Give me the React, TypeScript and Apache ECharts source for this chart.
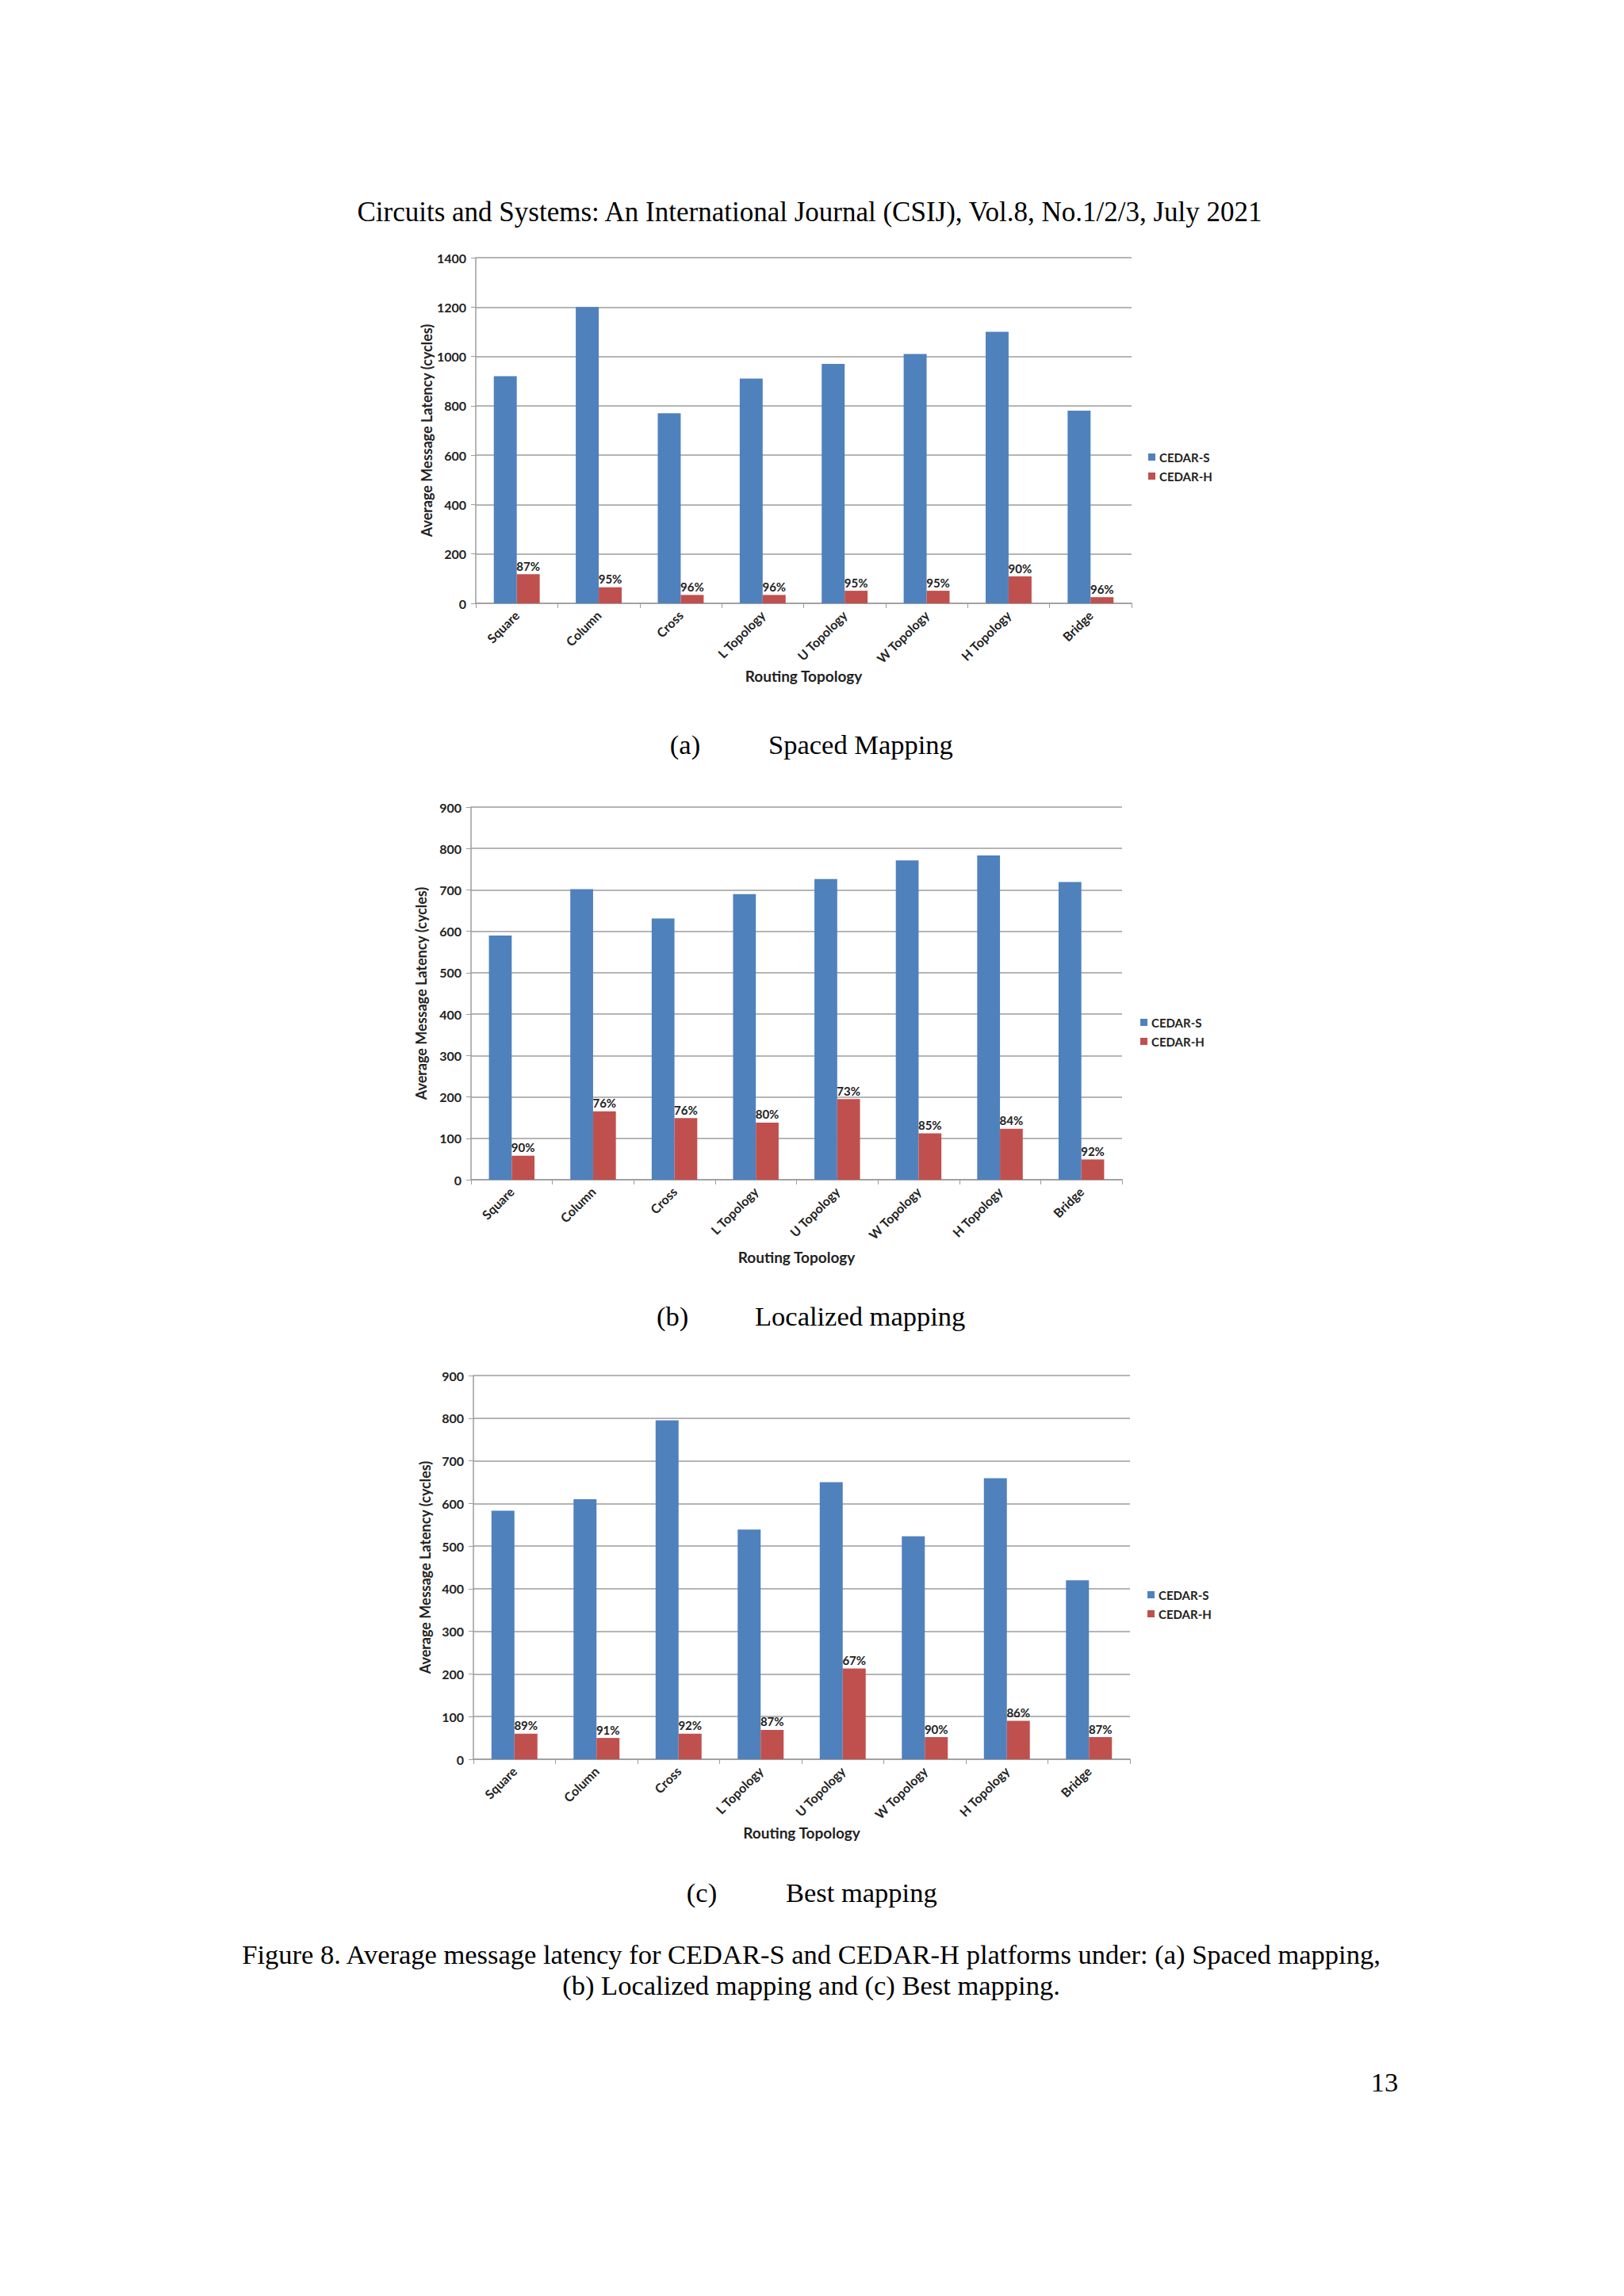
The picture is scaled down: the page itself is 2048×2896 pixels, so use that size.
import React, { useEffect, useRef } from "react";
import * as echarts from "echarts";

const categories = ["Square", "Column", "Cross", "L Topology", "U Topology", "W Topology", "H Topology", "Bridge"];
const seriesNames = ["CEDAR-S", "CEDAR-H"];

const spacedS = [920, 1200, 770, 910, 970, 1010, 1100, 780];
const spacedH = [118, 65, 34, 34, 51, 51, 109, 25];
const spacedPct = ["87%", "95%", "96%", "96%", "95%", "95%", "90%", "96%"];

const localS = [590, 702, 631, 690, 726, 771, 783, 719];
const localH = [58, 165, 149, 138, 195, 112, 123, 49];
const localPct = ["90%", "76%", "76%", "80%", "73%", "85%", "84%", "92%"];

const bestS = [583, 610, 795, 539, 650, 523, 659, 420];
const bestH = [60, 50, 60, 69, 213, 52, 90, 52];
const bestPct = ["89%", "91%", "92%", "87%", "67%", "90%", "86%", "87%"];

const yTicksA = { min: 0, max: 1400, interval: 200 };
const yTicksBC = { min: 0, max: 900, interval: 100 };

const headerText = "Circuits and Systems: An International Journal (CSIJ), Vol.8, No.1/2/3, July 2021";
const captionLine1 = "Figure 8. Average message latency for CEDAR-S and CEDAR-H platforms under: (a) Spaced mapping,";
const captionLine2 = "(b) Localized mapping and (c) Best mapping.";
const yName = "Average Message Latency (cycles)";
const xName = "Routing Topology";

const BLUE = "#4f81bd";
const RED = "#c0504d";
const GRID = "#9c9c9c";
const TXT = "#222222";
const SANS = "Lato, 'Open Sans', sans-serif";
const SERIF = "'Liberation Serif', 'Times New Roman', serif";

export default function App() {
  const ref = useRef<HTMLDivElement>(null);

  useEffect(() => {
    if (!ref.current) return;
    const chart = echarts.init(ref.current, undefined, { renderer: "svg" });

    const panels = [
      { grid: { left: 600, top: 325, width: 827, height: 436 }, y: yTicksA, s: spacedS, h: spacedH, pct: spacedPct, yGap: 50, xGap: 82, legend: { left: 1448, top: 569 } },
      { grid: { left: 594, top: 1018, width: 821, height: 470 }, y: yTicksBC, s: localS, h: localH, pct: localPct, yGap: 54, xGap: 88, legend: { left: 1438, top: 1282 } },
      { grid: { left: 597, top: 1735, width: 828, height: 484 }, y: yTicksBC, s: bestS, h: bestH, pct: bestPct, yGap: 52, xGap: 83, legend: { left: 1447, top: 2004 } },
    ];

    const grids: any[] = [];
    const xAxes: any[] = [];
    const yAxes: any[] = [];
    const series: any[] = [];
    const legends: any[] = [];

    panels.forEach((p, i) => {
      grids.push({ ...p.grid, containLabel: false });
      xAxes.push({
        type: "category",
        gridIndex: i,
        data: categories,
        name: xName,
        nameLocation: "middle",
        nameGap: p.xGap,
        nameTextStyle: { fontFamily: SANS, fontWeight: "bold", fontSize: 19, color: TXT },
        axisLine: { show: true, lineStyle: { color: GRID, width: 1.5 } },
        axisTick: { show: true, length: 6, alignWithLabel: false, lineStyle: { color: GRID } },
        axisLabel: {
          interval: 0,
          rotate: 45,
          margin: 12,
          fontFamily: SANS,
          fontWeight: "bold",
          fontSize: 16,
          color: TXT,
        },
        splitLine: { show: false },
      });
      yAxes.push({
        type: "value",
        gridIndex: i,
        min: p.y.min,
        max: p.y.max,
        interval: p.y.interval,
        name: yName,
        nameLocation: "middle",
        nameRotate: 90,
        nameGap: p.yGap,
        nameTextStyle: { fontFamily: SANS, fontWeight: "bold", fontSize: 18, color: TXT },
        axisLine: { show: true, lineStyle: { color: GRID, width: 1.5 } },
        axisTick: { show: true, length: 6, lineStyle: { color: GRID } },
        axisLabel: {
          margin: 12,
          formatter: (v: number) => String(v),
          fontFamily: SANS,
          fontWeight: "bold",
          fontSize: 16,
          color: TXT,
        },
        splitLine: { show: true, lineStyle: { color: GRID, width: 1.5 } },
      });
      series.push({
        type: "bar",
        name: seriesNames[0],
        xAxisIndex: i,
        yAxisIndex: i,
        data: p.s,
        barGap: "0%",
        barCategoryGap: "44%",
        itemStyle: { color: BLUE },
      });
      const pct = p.pct;
      series.push({
        type: "bar",
        name: seriesNames[1],
        xAxisIndex: i,
        yAxisIndex: i,
        data: p.h,
        barGap: "0%",
        barCategoryGap: "44%",
        itemStyle: { color: RED },
        label: {
          show: true,
          position: "top",
          distance: 3,
          formatter: (params: any) => pct[params.dataIndex],
          fontFamily: SANS,
          fontWeight: "bold",
          fontSize: 15,
          color: TXT,
        },
      });
      legends.push({
        orient: "vertical",
        left: p.legend.left,
        top: p.legend.top,
        data: seriesNames,
        icon: "rect",
        itemWidth: 9,
        itemHeight: 9,
        itemGap: 9,
        padding: 0,
        selectedMode: false,
        textStyle: { fontFamily: SANS, fontWeight: "bold", fontSize: 15, color: TXT },
      });
    });

    const serifText = (text: string, x: number, y: number, align: string = "center", size = 34.5) => ({
      type: "text",
      x,
      y,
      silent: true,
      style: {
        text,
        fill: "#000",
        font: `normal ${size}px ${SERIF}`,
        textAlign: align,
        textVerticalAlign: "middle",
      },
    });

    chart.setOption({
      animation: false,
      backgroundColor: "#ffffff",
      grid: grids,
      xAxis: xAxes,
      yAxis: yAxes,
      series,
      legend: legends,
      graphic: [
        serifText(headerText, 1021, 267, "center", 35),
        serifText("(a)", 864, 939),
        serifText("Spaced Mapping", 969, 939, "left"),
        serifText("(b)", 848, 1660),
        serifText("Localized mapping", 952, 1660, "left"),
        serifText("(c)", 885, 2387),
        serifText("Best mapping", 991, 2387, "left"),
        serifText(captionLine1, 1023, 2465),
        serifText(captionLine2, 1023, 2504),
        serifText("13", 1746, 2626),
      ],
    });

    return () => chart.dispose();
  }, []);

  return (
    <div
      ref={ref}
      style={{ position: "absolute", left: 0, top: 0, width: 2048, height: 2896, background: "#fff" }}
    />
  );
}
